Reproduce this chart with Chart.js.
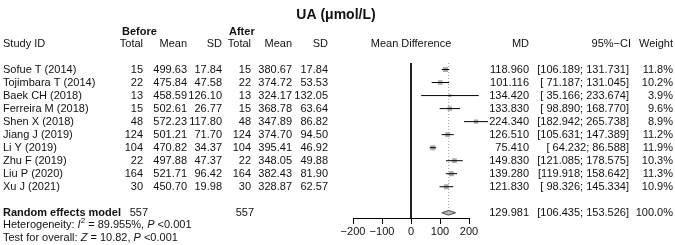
<!DOCTYPE html>
<html>
<head>
<meta charset="utf-8">
<script src="https://cdn.jsdelivr.net/npm/chart.js@4"></script>
<style>
  html, body { margin: 0; padding: 0; background: #fff; }
  canvas { display: block; }
</style>
</head>
<body>
<canvas id="forestChart" width="675" height="245"></canvas>
<script>
const studies = ["Sofue T (2014)", "Tojimbara T (2014)", "Baek CH (2018)", "Ferreira M (2018)", "Shen X (2018)",
    "Jiang J (2019)", "Li Y (2019)", "Zhu F (2019)", "Liu P (2020)", "Xu J (2021)"];
const beforeTotal = [15, 22, 13, 15, 48, 124, 104, 22, 164, 30];
const beforeMean = ["499.63", "475.84", "458.59", "502.61", "572.23", "501.21", "470.82", "497.88", "521.71", "450.70"];
const beforeSD = ["17.84", "47.58", "126.10", "26.77", "117.80", "71.70", "34.37", "47.37", "96.42", "19.98"];
const afterTotal = [15, 22, 13, 15, 48, 124, 104, 22, 164, 30];
const afterMean = ["380.67", "374.72", "324.17", "368.78", "347.89", "374.70", "395.41", "348.05", "382.43", "328.87"];
const afterSD = ["17.84", "53.53", "132.05", "63.64", "86.82", "94.50", "46.92", "49.88", "81.90", "62.57"];
const md = [118.960, 101.116, 134.420, 133.830, 224.340, 126.510, 75.410, 149.830, 139.280, 121.830];
const ciLow = [106.189, 71.187, 35.166, 98.890, 182.942, 105.631, 64.232, 121.085, 119.918, 98.326];
const ciHigh = [131.731, 131.045, 233.674, 168.770, 265.738, 147.389, 86.588, 178.575, 158.642, 145.334];
const weight = [11.8, 10.2, 3.9, 9.6, 8.9, 11.2, 11.9, 10.3, 11.3, 10.9];
const pooled = { md: 129.981, low: 106.435, high: 153.526, total: 557 };
const xTicks = [-200, -100, 0, 100, 200];

const FONT = "'Liberation Sans', Arial, sans-serif";
const pooledRow = 11;

// CI lines, separated by gaps
const ciData = [];
studies.forEach((s, i) => {
    ciData.push({ x: ciLow[i], y: i }, { x: ciHigh[i], y: i }, { x: null, y: null });
});

const squareData = md.map((v, i) => ({ x: v, y: i }));
const squareRadius = weight.map(w => 1.45 * Math.sqrt(w) / 1.414);

const dh = 0.18;
const diamond = [
    { x: pooled.low, y: pooledRow }, { x: pooled.md, y: pooledRow - dh },
    { x: pooled.high, y: pooledRow }, { x: pooled.md, y: pooledRow + dh },
    { x: pooled.low, y: pooledRow }
];

function fmt(v, d) { return v.toFixed(d); }
function ciText(i) {
    const lo = fmt(ciLow[i], 3), hi = fmt(ciHigh[i], 3);
    return "[" + (lo.length < 7 ? " " : "") + lo + "; " + hi + "]";
}

const textPlugin = {
    id: "forestText",
    afterDraw(chart) {
        const ctx = chart.ctx;
        const y = chart.scales.y;
        const x = chart.scales.x;
        ctx.save();
        ctx.fillStyle = "#111";
        ctx.textBaseline = "middle";

        // axis line from -200 to 200
        ctx.strokeStyle = "#000";
        ctx.lineWidth = 1;
        ctx.beginPath();
        const axY = Math.round(chart.chartArea.bottom) + 0.5;
        ctx.moveTo(x.getPixelForValue(-200), axY);
        ctx.lineTo(x.getPixelForValue(200), axY);
        ctx.stroke();

        function txt(s, px, py, align, bold) {
            ctx.font = (bold ? "bold " : "") + "11px " + FONT;
            ctx.textAlign = align;
            ctx.fillText(s, px, py);
        }

        // title
        ctx.font = "bold 14px " + FONT;
        ctx.textAlign = "center";
        ctx.fillText("UA (\u03bcmol/L)", 336, 15);

        // headers
        txt("Before", 122, 32, "left", true);
        txt("After", 229, 32, "left", true);
        const hy = 44;
        txt("Study ID", 3, hy, "left");
        txt("Total", 143, hy, "right");
        txt("Mean", 187, hy, "right");
        txt("SD", 222, hy, "right");
        txt("Total", 251, hy, "right");
        txt("Mean", 292, hy, "right");
        txt("SD", 328, hy, "right");
        txt("Mean Difference", x.getPixelForValue(0), hy, "center");
        txt("MD", 529, hy, "right");
        txt("95%\u2212CI", 631, hy, "right");
        txt("Weight", 673, hy, "right");

        studies.forEach((s, i) => {
            const py = y.getPixelForValue(i);
            txt(s, 3, py, "left");
            txt(String(beforeTotal[i]), 143, py, "right");
            txt(beforeMean[i], 187, py, "right");
            txt(beforeSD[i], 222, py, "right");
            txt(String(afterTotal[i]), 251, py, "right");
            txt(afterMean[i], 292, py, "right");
            txt(afterSD[i], 328, py, "right");
            txt(fmt(md[i], 3), 529, py, "right");
            txt(ciText(i), 629, py, "right");
            txt(fmt(weight[i], 1) + "%", 673, py, "right");
        });

        const ry = y.getPixelForValue(pooledRow);
        txt("Random effects model", 3, ry, "left", true);
        txt(String(pooled.total), 148, ry, "right");
        txt(String(pooled.total), 254, ry, "right");
        txt(fmt(pooled.md, 3), 529, ry, "right");
        txt("[" + fmt(pooled.low, 3) + "; " + fmt(pooled.high, 3) + "]", 629, ry, "right");
        txt("100.0%", 673, ry, "right");

        // heterogeneity / overall test lines with italic pieces
        function rich(parts, px, py) {
            ctx.textAlign = "left";
            let cx = px;
            parts.forEach(p => {
                const size = p.sup ? 8 : 11;
                ctx.font = (p.it ? "italic " : "") + size + "px " + FONT;
                ctx.fillText(p.t, cx, p.sup ? py - 4 : py);
                cx += ctx.measureText(p.t).width;
            });
        }
        rich([{ t: "Heterogeneity: " }, { t: "I", it: true }, { t: "2", sup: true },
              { t: " = 89.955%, " }, { t: "P", it: true }, { t: " <0.001" }], 3, ry + 12.5);
        rich([{ t: "Test for overall: " }, { t: "Z", it: true }, { t: " = 10.82, " },
              { t: "P", it: true }, { t: " <0.001" }], 3, ry + 25);
        ctx.restore();
    }
};

new Chart(document.getElementById("forestChart"), {
    type: "scatter",
    data: {
        datasets: [
            {
                // zero line
                type: "line",
                data: [{ x: 0, y: -0.5 }, { x: 0, y: 11.4 }],
                borderColor: "#000",
                borderWidth: 1,
                pointRadius: 0,
                order: 5
            },
            {
                // pooled estimate, dotted
                type: "line",
                data: [{ x: pooled.md, y: -0.5 }, { x: pooled.md, y: pooledRow - dh }],
                borderColor: "#999",
                borderWidth: 1,
                borderDash: [1, 2],
                pointRadius: 0,
                order: 4
            },
            {
                data: squareData,
                pointStyle: "rect",
                pointRadius: squareRadius,
                backgroundColor: "#aaa",
                borderColor: "#aaa",
                borderWidth: 0,
                order: 3
            },
            {
                type: "line",
                data: ciData,
                spanGaps: false,
                borderColor: "#000",
                borderWidth: 1,
                pointRadius: 0,
                order: 2
            },
            {
                type: "line",
                data: diamond,
                fill: "shape",
                backgroundColor: "#bbb",
                borderColor: "#444",
                borderWidth: 1,
                pointRadius: 0,
                order: 1
            }
        ]
    },
    options: {
        responsive: false,
        animation: false,
        events: [],
        layout: { padding: { left: 338.5, right: 177, top: 63, bottom: 0 } },
        plugins: { legend: { display: false }, tooltip: { enabled: false } },
        scales: {
            x: {
                type: "linear",
                min: -250,
                max: 300,
                afterBuildTicks: s => { s.ticks = xTicks.map(v => ({ value: v })); },
                afterFit: s => { s.height = 27; },
                ticks: {
                    color: "#111",
                    font: { family: FONT, size: 11 },
                    padding: 1,
                    maxRotation: 0,
                    callback: v => String(v).replace("-", "\u2212")
                },
                grid: { drawOnChartArea: false, drawTicks: true, tickLength: 6, color: "#000" },
                border: { display: false }
            },
            y: {
                type: "linear",
                display: false,
                reverse: true,
                min: -0.5,
                max: 11.4
            }
        }
    },
    plugins: [textPlugin]
});
</script>
</body>
</html>
